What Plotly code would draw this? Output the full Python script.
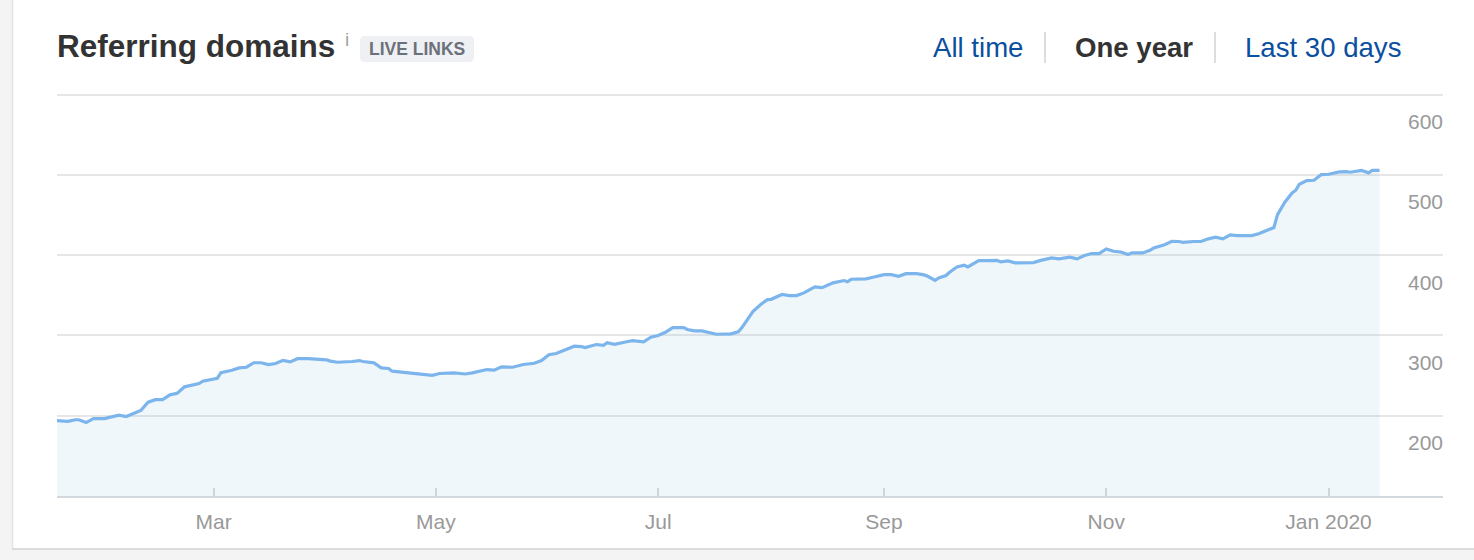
import plotly.graph_objects as go

# ---- data ----
dates = [
    "2019-01-17", "2019-01-20", "2019-01-22", "2019-01-23", "2019-01-25", "2019-01-27", "2019-01-30",
    "2019-02-01", "2019-02-03", "2019-02-05", "2019-02-08", "2019-02-09", "2019-02-11", "2019-02-13",
    "2019-02-15", "2019-02-17", "2019-02-19", "2019-02-21", "2019-02-25", "2019-02-26",
    "2019-03-02", "2019-03-03", "2019-03-06", "2019-03-08", "2019-03-10", "2019-03-12", "2019-03-14",
    "2019-03-16", "2019-03-18", "2019-03-20", "2019-03-22", "2019-03-24", "2019-03-27", "2019-03-30",
    "2019-04-01", "2019-04-02", "2019-04-04", "2019-04-08", "2019-04-10", "2019-04-11", "2019-04-13",
    "2019-04-14", "2019-04-16", "2019-04-18", "2019-04-19", "2019-04-22", "2019-04-24", "2019-04-26",
    "2019-04-30", "2019-05-02", "2019-05-04", "2019-05-06", "2019-05-09", "2019-05-11", "2019-05-15",
    "2019-05-17", "2019-05-19", "2019-05-22", "2019-05-25", "2019-05-28", "2019-05-30",
    "2019-06-01", "2019-06-03", "2019-06-08", "2019-06-10", "2019-06-11", "2019-06-14", "2019-06-16",
    "2019-06-17", "2019-06-19", "2019-06-23", "2019-06-24", "2019-06-27", "2019-06-29",
    "2019-07-01", "2019-07-03", "2019-07-05", "2019-07-08", "2019-07-09", "2019-07-11", "2019-07-13",
    "2019-07-17", "2019-07-21", "2019-07-23", "2019-07-24", "2019-07-26", "2019-07-27", "2019-07-29",
    "2019-07-31", "2019-08-01", "2019-08-04", "2019-08-06", "2019-08-08", "2019-08-10", "2019-08-13",
    "2019-08-15", "2019-08-18", "2019-08-21", "2019-08-22", "2019-08-23", "2019-08-27", "2019-08-29",
    "2019-09-01", "2019-09-03", "2019-09-05", "2019-09-07", "2019-09-10", "2019-09-12", "2019-09-13",
    "2019-09-15", "2019-09-16", "2019-09-18", "2019-09-19", "2019-09-21", "2019-09-23", "2019-09-24",
    "2019-09-27", "2019-09-29", "2019-10-02", "2019-10-03", "2019-10-05", "2019-10-07", "2019-10-12",
    "2019-10-14", "2019-10-17", "2019-10-19", "2019-10-22", "2019-10-24", "2019-10-26", "2019-10-28",
    "2019-10-30", "2019-11-01", "2019-11-03", "2019-11-05", "2019-11-07", "2019-11-08", "2019-11-11",
    "2019-11-13", "2019-11-14", "2019-11-17", "2019-11-19", "2019-11-21", "2019-11-22", "2019-11-25",
    "2019-11-27", "2019-11-29", "2019-12-01", "2019-12-03", "2019-12-05", "2019-12-07", "2019-12-11",
    "2019-12-13", "2019-12-15", "2019-12-17", "2019-12-18", "2019-12-19", "2019-12-20", "2019-12-22",
    "2019-12-23", "2019-12-24", "2019-12-26", "2019-12-28", "2019-12-30",
    "2020-01-01", "2020-01-03", "2020-01-04", "2020-01-06", "2020-01-07", "2020-01-10", "2020-01-12",
    "2020-01-13", "2020-01-15",
]
domains = [
    194, 193, 195, 195, 191.5, 196.5, 196.5,
    199, 200.6, 199, 205, 206.5, 216.8, 220,
    220, 226, 228, 236, 240, 243,
    246.7, 253.7, 256.7, 259.6, 260.4, 266, 266,
    263.7, 265, 269, 267, 271, 271, 269.6,
    269.6, 268, 266.6, 267.5, 268.7, 267.5, 266.6,
    265.8, 259.6, 258.8, 255.5, 254, 254, 252.6,
    250.4, 252.6, 252.6, 253.4, 252, 253.4, 257.5,
    256.7, 260.9, 260.4, 263.8, 265.4, 268.7,
    276, 277.5, 286.6, 286, 285, 288.7, 287.8,
    291, 289, 292.8, 293.6, 292, 297.8,
    300, 304, 309.8, 309.8, 307.4, 305.7, 305.7,
    301.5, 302, 304.5, 309.8, 323.9, 329.8, 338,
    344.7, 345, 351, 349.7, 349.7, 353, 360.5,
    359.6, 365.5, 368.4, 367, 370, 370.5, 372.5,
    375.8, 375.8, 373.7, 377, 377, 375.4, 373.7,
    368.7, 371.7, 374.6, 378.7, 385.4, 387.4, 385.4,
    393.3, 393.3, 393.6, 391.6, 392.8, 390.4, 390.7,
    393.5, 396.6, 395.4, 397.4, 395.4, 399.5, 402,
    402, 407.8, 404.9, 404, 400.7, 402.8, 402.8,
    406, 409, 413, 417.3, 417, 416, 417,
    417, 420.3, 422.3, 420.3, 425.3, 424.4, 424.4,
    426.9, 431, 434.4, 450.5, 458.9, 465.9, 477.5,
    480.9, 488.3, 492.9, 493.3, 500.4,
    500.8, 502.5, 503.7, 504.1, 503.3, 505.7, 502.5,
    505.7, 505.7,
]

x_tick_vals = ["2019-03-01", "2019-05-01", "2019-07-01", "2019-09-01", "2019-11-01", "2020-01-01"]
x_tick_text = ["Mar", "May", "Jul", "Sep", "Nov", "Jan 2020"]
y_tick_vals = [200, 300, 400, 500, 600]
y_tick_text = ["200", "300", "400", "500", "600"]

title_text = "Referring domains"
badge_text = "LIVE LINKS"
tabs = ["All time", "One year", "Last 30 days"]

# ---- layout geometry ----
W, H = 1474, 560
ML, MR, MT, MB = 57, 31, 93, 64
PW, PH = W - ML - MR, H - MT - MB
FONT = "Liberation Sans, Arial, Helvetica, sans-serif"


def px_x(x):
    return (x - ML) / PW


def px_y(y):
    return (H - MB - y) / PH


fig = go.Figure()
fig.add_trace(go.Scatter(
    x=dates, y=domains, mode="lines",
    line=dict(color="#7cb5ec", width=3.2),
    fill="tozeroy", fillcolor="rgba(124,188,226,0.12)",
    hoverinfo="x+y", showlegend=False,
))

annotations = [
    dict(text="<b>" + title_text + "</b>", x=px_x(55), y=px_y(45.5), xanchor="left", yanchor="middle",
         font=dict(family=FONT, size=31.5, color="#333333")),
    dict(text="i", x=px_x(343), y=px_y(40), xanchor="left", yanchor="middle",
         font=dict(family=FONT, size=19, color="#a0a0a0")),
    dict(text="<b>" + badge_text + "</b>", x=px_x(417), y=px_y(49), xanchor="center", yanchor="middle",
         font=dict(family=FONT, size=17.5, color="#6b717b")),
    dict(text=tabs[0], x=px_x(931), y=px_y(48), xanchor="left", yanchor="middle",
         font=dict(family=FONT, size=27.6, color="#0b4f9f")),
    dict(text="<b>" + tabs[1] + "</b>", x=px_x(1073), y=px_y(48), xanchor="left", yanchor="middle",
         font=dict(family=FONT, size=27.6, color="#333333")),
    dict(text=tabs[2], x=px_x(1243), y=px_y(48), xanchor="left", yanchor="middle",
         font=dict(family=FONT, size=27.6, color="#0b4f9f")),
]
for a in annotations:
    a.update(xref="paper", yref="paper", showarrow=False)

# y tick labels sit just below their gridlines (placed on the y scale)
for v, t in zip(y_tick_vals, y_tick_text):
    annotations.append(dict(
        text=t, xref="paper", yref="y", x=px_x(1445), y=v, yshift=-27,
        xanchor="right", yanchor="middle", showarrow=False,
        font=dict(family=FONT, size=21, color="#999999"),
    ))


def rrect(x0, y0, x1, y1, r):
    X0, X1 = px_x(x0), px_x(x1)
    Y0, Y1 = px_y(y0), px_y(y1)
    rx, ry = r / PW, r / PH
    return (f"M {X0+rx},{Y0} L {X1-rx},{Y0} Q {X1},{Y0} {X1},{Y0-ry} "
            f"L {X1},{Y1+ry} Q {X1},{Y1} {X1-rx},{Y1} L {X0+rx},{Y1} "
            f"Q {X0},{Y1} {X0},{Y1+ry} L {X0},{Y0-ry} Q {X0},{Y0} {X0+rx},{Y0} Z")


shapes = [
    # badge
    dict(type="path", path=rrect(360, 36, 474, 62, 5), fillcolor="#eff0f4", line=dict(width=0),
         layer="below"),
    # tab separators
    dict(type="line", x0=px_x(1045), x1=px_x(1045), y0=px_y(32), y1=px_y(63),
         line=dict(color="#dddddd", width=2)),
    dict(type="line", x0=px_x(1215), x1=px_x(1215), y0=px_y(32), y1=px_y(63),
         line=dict(color="#dddddd", width=2)),
    # left page strip and border
    dict(type="rect", x0=px_x(0), x1=px_x(12), y0=px_y(0), y1=px_y(H), fillcolor="#f4f4f5",
         line=dict(width=0), layer="below"),
    dict(type="line", x0=px_x(12.5), x1=px_x(12.5), y0=px_y(0), y1=px_y(549),
         line=dict(color="#e3e3e3", width=1.5)),
    # bottom page strip and border
    dict(type="rect", x0=px_x(0), x1=px_x(W), y0=px_y(549), y1=px_y(H), fillcolor="#f4f4f5",
         line=dict(width=0), layer="below"),
    dict(type="line", x0=px_x(12), x1=px_x(W), y0=px_y(549), y1=px_y(549),
         line=dict(color="#dcdcdc", width=2)),
]
for s in shapes:
    s.update(xref="paper", yref="paper")

fig.update_layout(
    width=W, height=H,
    margin=dict(l=ML, r=MR, t=MT, b=MB, pad=0),
    paper_bgcolor="white", plot_bgcolor="white",
    font=dict(family=FONT),
    annotations=annotations, shapes=shapes,
    showlegend=False,
)
fig.update_xaxes(
    range=["2019-01-17", "2020-02-01 10:00"],
    tickvals=x_tick_vals, ticktext=x_tick_text,
    ticks="inside", ticklen=8, tickwidth=1.5, tickcolor="#cfd5db",
    showgrid=False, zeroline=False,
    showline=True, linecolor="#d3d8de", linewidth=2,
    tickfont=dict(family=FONT, size=21, color="#999999"),
    ticklabelstandoff=6,
    fixedrange=True,
)
fig.update_yaxes(
    range=[100, 602], side="right",
    tickvals=y_tick_vals, showticklabels=False,
    ticks="", showline=False, zeroline=False,
    showgrid=True, gridcolor="#e6e6e6", gridwidth=2,
    fixedrange=True,
)

fig.write_html("out.html", config={"displayModeBar": False},
               post_script="document.body.style.margin='0';document.body.style.overflow='hidden';")
